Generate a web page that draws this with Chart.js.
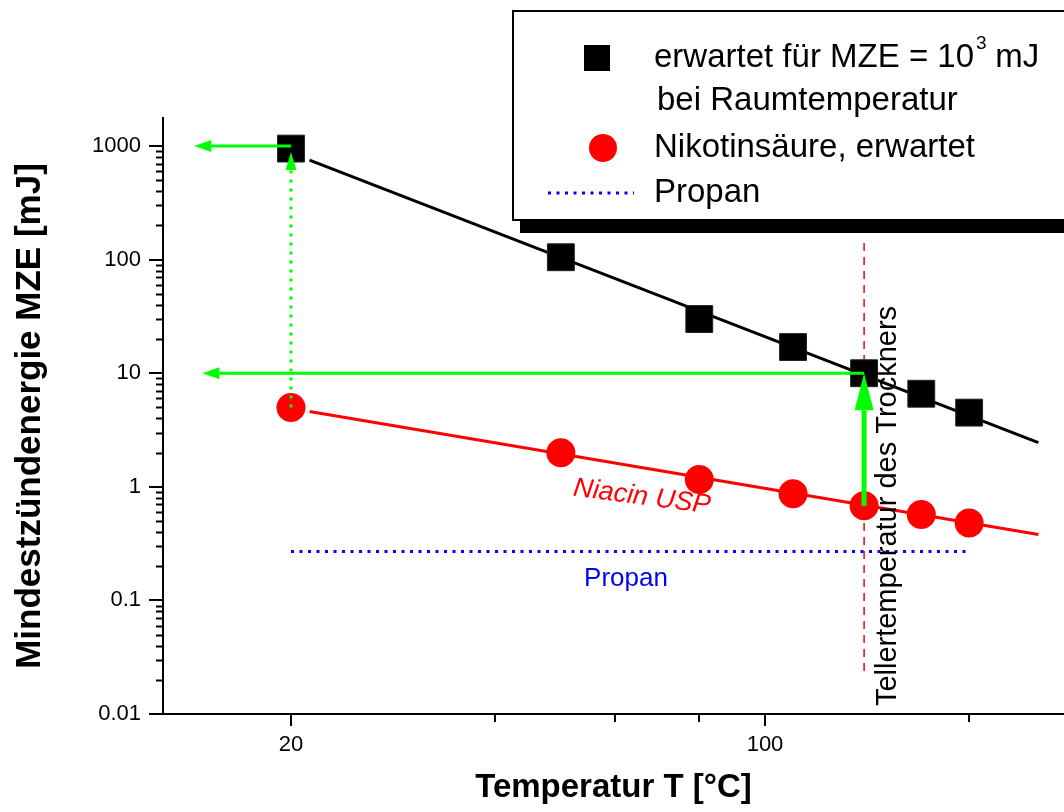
<!DOCTYPE html>
<html>
<head>
<meta charset="utf-8">
<script src="https://cdn.jsdelivr.net/npm/chart.js@4.4.1/dist/chart.umd.min.js"></script>
<style>
  html, body { margin: 0; padding: 0; background: #fff; }
  #wrap { width: 1064px; height: 812px; position: relative; }
</style>
</head>
<body>
<div id="wrap"><canvas id="mzeChart"></canvas></div>
<script>
// Temperatures (°C) and expected minimum ignition energies (mJ)
const temps = [20, 50, 80, 110, 140, 170, 200];
const mzeExpected = [950, 105, 30, 17, 10, 6.6, 4.5];
const mzeNiacin = [5.0, 2.0, 1.16, 0.87, 0.68, 0.57, 0.48];

// fitted lines (power law), end points
const fitT = [21.3, 253];
const fitExpected = [753, 2.45];
const fitNiacin = [4.6, 0.38];

// propane reference line
const propanT = [20, 200];
const propanMze = [0.27, 0.27];

// dryer plate temperature marker
const dryerT = [140, 140];
const dryerMze = [140, 0.023];

// green arrows: start and end in data units
const arrowFromT = [20, 20, 140, 140];
const arrowFromE = [1000, 5, 10, 0.68];
const arrowToT = [14.4, 20, 14.8, 140];
const arrowToE = [1000, 885, 10, 10];

// axis ticks
const yTicks = [0.01, 0.1, 1, 10, 100, 1000];
const yTickLabels = ['0.01', '0.1', '1', '10', '100', '1000'];
const xTicks = [20, 100];
const xTickLabels = ['20', '100'];
const xMinorTicks = [40, 60, 80, 200];

const FONT = '"Liberation Sans", Arial, sans-serif';

function pts(xs, ys) {
    return xs.map((x, i) => ({ x: x, y: ys[i] }));
}

// minor ticks, arrows and text labels
const extrasPlugin = {
    id: 'extras',
    afterDatasetsDraw(chart) {
        const ctx = chart.ctx;
        const xs = chart.scales.x, ys = chart.scales.y;
        const area = chart.chartArea;
        ctx.save();

        // minor ticks
        ctx.strokeStyle = '#000';
        ctx.lineWidth = 2;
        ctx.beginPath();
        for (let d = 0.01; d < 1000; d *= 10) {
            for (let k = 2; k <= 9; k++) {
                const py = Math.round(ys.getPixelForValue(d * k)) + 0.5;
                ctx.moveTo(area.left, py);
                ctx.lineTo(area.left - 7, py);
            }
        }
        xMinorTicks.forEach(v => {
            const px = Math.round(xs.getPixelForValue(v));
            ctx.moveTo(px, area.bottom);
            ctx.lineTo(px, area.bottom + 8);
        });
        ctx.stroke();

        // green arrows
        const styles = [
            { w: 3, dash: [], hl: 17, hw: 12 },
            { w: 3, dash: [3, 6], hl: 18, hw: 11 },
            { w: 3, dash: [], hl: 17, hw: 12 },
            { w: 5, dash: [], hl: 37, hw: 19 }
        ];
        ctx.strokeStyle = '#00ff00';
        ctx.fillStyle = '#00ff00';
        arrowFromT.forEach((t, i) => {
            const s = styles[i];
            const x1 = xs.getPixelForValue(t), y1 = ys.getPixelForValue(arrowFromE[i]);
            const x2 = xs.getPixelForValue(arrowToT[i]), y2 = ys.getPixelForValue(arrowToE[i]);
            const len = Math.hypot(x2 - x1, y2 - y1);
            const ux = (x2 - x1) / len, uy = (y2 - y1) / len;
            const bx = x2 - ux * s.hl, by = y2 - uy * s.hl;
            ctx.lineWidth = s.w;
            ctx.setLineDash(s.dash);
            ctx.beginPath();
            ctx.moveTo(x1, y1);
            ctx.lineTo(bx, by);
            ctx.stroke();
            ctx.setLineDash([]);
            ctx.beginPath();
            ctx.moveTo(x2, y2);
            ctx.lineTo(bx - uy * s.hw / 2, by + ux * s.hw / 2);
            ctx.lineTo(bx + uy * s.hw / 2, by - ux * s.hw / 2);
            ctx.closePath();
            ctx.fill();
        });

        // text labels inside the plot
        ctx.textAlign = 'center';
        ctx.textBaseline = 'middle';

        ctx.save();
        ctx.translate(642, 497);
        ctx.rotate(7.5 * Math.PI / 180);
        ctx.fillStyle = '#ff0000';
        ctx.font = 'italic 27px ' + FONT;
        ctx.fillText('Niacin USP', 0, 0);
        ctx.restore();

        ctx.fillStyle = '#0000ff';
        ctx.font = '26px ' + FONT;
        ctx.fillText('Propan', 626, 579);

        ctx.save();
        ctx.translate(888, 506);
        ctx.rotate(-Math.PI / 2);
        ctx.fillStyle = '#000';
        ctx.font = '29px ' + FONT;
        ctx.fillText('Tellertemperatur des Trockners', 0, 0);
        ctx.restore();

        ctx.restore();
    },
    afterDraw(chart) {
        // legend box with drop shadow
        const ctx = chart.ctx;
        ctx.save();
        ctx.fillStyle = '#000';
        ctx.fillRect(520, 220, 560, 13);
        ctx.fillStyle = '#fff';
        ctx.fillRect(512, 10, 560, 210);
        ctx.strokeStyle = '#000';
        ctx.lineWidth = 2;
        ctx.strokeRect(513, 11, 560, 209);

        ctx.fillStyle = '#000';
        ctx.fillRect(584, 45, 26, 26);
        ctx.fillStyle = '#ff0000';
        ctx.beginPath();
        ctx.arc(603, 148, 14, 0, Math.PI * 2);
        ctx.fill();
        ctx.strokeStyle = '#0000ff';
        ctx.lineWidth = 3;
        ctx.setLineDash([3, 5.5]);
        ctx.beginPath();
        ctx.moveTo(548, 193);
        ctx.lineTo(634, 193);
        ctx.stroke();
        ctx.setLineDash([]);

        ctx.fillStyle = '#000';
        ctx.textBaseline = 'middle';
        ctx.textAlign = 'left';
        ctx.font = '33px ' + FONT;
        const t1 = 'erwartet für MZE = 10';
        ctx.fillText(t1, 654, 58);
        let w = ctx.measureText(t1).width;
        ctx.font = '19px ' + FONT;
        ctx.fillText('3', 654 + w + 2, 44);
        ctx.font = '33px ' + FONT;
        ctx.fillText(' mJ', 654 + w + 12, 58);
        ctx.fillText('bei Raumtemperatur', 657, 101);
        ctx.fillText('Nikotinsäure, erwartet', 654, 148);
        ctx.fillText('Propan', 654, 193);
        ctx.restore();
    }
};

document.addEventListener('DOMContentLoaded', function() {
    const ctx = document.getElementById('mzeChart').getContext('2d');
    new Chart(ctx, {
        type: 'scatter',
        data: {
            datasets: [
                {
                    label: 'erwartet für MZE = 10³ mJ bei Raumtemperatur',
                    data: pts(temps, mzeExpected),
                    pointStyle: 'rect',
                    pointRadius: 19,
                    backgroundColor: '#000',
                    borderColor: '#222',
                    borderWidth: 1,
                    order: 1
                },
                {
                    label: 'Nikotinsäure, erwartet',
                    data: pts(temps, mzeNiacin),
                    pointStyle: 'circle',
                    pointRadius: 14.5,
                    backgroundColor: '#ff0000',
                    borderColor: '#ff0000',
                    borderWidth: 0,
                    order: 2
                },
                {
                    label: 'fit expected',
                    data: pts(fitT, fitExpected),
                    showLine: true,
                    borderColor: '#000',
                    borderWidth: 3,
                    pointRadius: 0,
                    order: 3
                },
                {
                    label: 'fit niacin',
                    data: pts(fitT, fitNiacin),
                    showLine: true,
                    borderColor: '#ff0000',
                    borderWidth: 3,
                    pointRadius: 0,
                    order: 4
                },
                {
                    label: 'Propan',
                    data: pts(propanT, propanMze),
                    showLine: true,
                    borderColor: '#0000ff',
                    borderWidth: 3,
                    borderDash: [3, 5.5],
                    pointRadius: 0,
                    order: 5
                },
                {
                    label: 'Tellertemperatur',
                    data: pts(dryerT, dryerMze),
                    showLine: true,
                    borderColor: '#ff0000',
                    borderWidth: 1.5,
                    borderDash: [8, 6],
                    pointRadius: 0,
                    order: 6
                }
            ]
        },
        options: {
            responsive: true,
            maintainAspectRatio: false,
            animation: false,
            layout: { autoPadding: false, padding: { top: 118, right: 0, left: 0, bottom: 0 } },
            plugins: {
                legend: { display: false },
                tooltip: { enabled: false }
            },
            scales: {
                x: {
                    type: 'logarithmic',
                    min: 12.95,
                    max: 276,
                    border: { color: '#000', width: 2 },
                    grid: { drawOnChartArea: false, drawTicks: true, tickLength: 12, color: '#000', lineWidth: 2 },
                    afterBuildTicks: s => { s.ticks = xTicks.map(v => ({ value: v })); },
                    afterFit: s => { s.height = 98; s.paddingLeft = 0; s.paddingRight = 0; },
                    ticks: {
                        color: '#000',
                        font: { family: FONT, size: 22 },
                        padding: 6,
                        maxRotation: 0,
                        autoSkip: false,
                        callback: (v) => xTickLabels[xTicks.indexOf(v)]
                    },
                    title: {
                        display: true,
                        text: 'Temperatur T [°C]',
                        color: '#000',
                        font: { family: FONT, size: 33, weight: 'bold' },
                        padding: { top: 0, bottom: 4 }
                    }
                },
                y: {
                    type: 'logarithmic',
                    min: 0.01,
                    max: 1766,
                    border: { color: '#000', width: 2 },
                    grid: { drawOnChartArea: false, drawTicks: true, tickLength: 14, color: '#000', lineWidth: 2 },
                    afterBuildTicks: s => { s.ticks = yTicks.map(v => ({ value: v })); },
                    afterFit: s => { s.width = 163; s.paddingTop = 0; s.paddingBottom = 0; },
                    ticks: {
                        color: '#000',
                        font: { family: FONT, size: 22 },
                        padding: 8,
                        autoSkip: false,
                        callback: (v) => yTickLabels[yTicks.indexOf(v)]
                    },
                    title: {
                        display: true,
                        text: 'Mindestzündenergie MZE [mJ]',
                        color: '#000',
                        font: { family: FONT, size: 35, weight: 'bold' },
                        padding: { top: 9, bottom: 0 }
                    }
                }
            }
        },
        plugins: [extrasPlugin]
    });
});
</script>
</body>
</html>
